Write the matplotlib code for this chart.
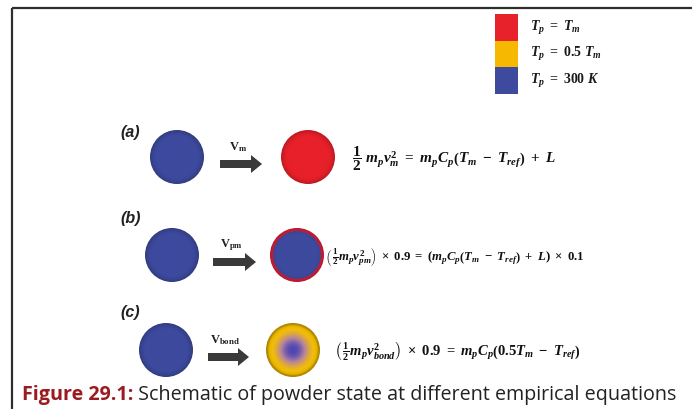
"""
Schematic of powder state at different empirical equations (Figure 29.1).
Drawn in pixel coordinates on one full-figure axes.
"""

import numpy as np
import matplotlib
matplotlib.use("Agg")
import matplotlib.pyplot as plt
from matplotlib.patches import Circle, Rectangle, FancyArrow
from matplotlib.colors import to_rgb

plt.rcParams['mathtext.fontset'] = 'custom'
plt.rcParams['mathtext.rm'] = 'Liberation Serif:bold'
plt.rcParams['mathtext.it'] = 'Liberation Serif:italic:bold'
plt.rcParams['mathtext.bf'] = 'Liberation Serif:bold'

# ---- content ----
legend_colors = ['#e8222b', '#f6b800', '#3d4a9e']
legend_labels = [r'$T_p\ =\ T_m$', r'$T_p\ =\ 0.5\ T_m$', r'$T_p\ =\ 300\ K$']

row_labels = ['(a)', '(b)', '(c)']
speed_labels = [r'$\mathrm{V_{m}}$', r'$\mathrm{V_{pm}}$', r'$\mathrm{V_{bond}}$']
equations = [
    r'$\dfrac{1}{2}\ m_p v_m^2\ =\ m_p C_p \left(T_m\ -\ T_{ref}\right)\ +\ L$',
    r'$\left(\,\frac{1}{2} m_p v_{pm}^2\right)\ \times\ 0.9\ =\ (m_p C_p \left(T_m\ -\ T_{ref}\right)\ +\ L)\ \times\ 0.1$',
    r'$\left(\,\frac{1}{2} m_p v_{bond}^2\right)\ \times\ 0.9\ =\ m_p C_p \left(0.5T_m\ -\ T_{ref}\right)$',
]
final_states = ['melted', 'shell', 'bonded']

caption_bold = 'Figure 29.1:'
caption_text = ' Schematic of powder state at different empirical equations'

BLUE = '#3d4a9e'
RED = '#e8202a'
YELLOW = '#f5c000'

# ---- layout (pixels) ----
W, H = 692, 409
rows_y = [157, 255, 350]
label_xy = [(120, 133), (120, 218), (120, 312)]
start_x = [177, 172, 166]
arrow_x = [(220, 262), (213, 256), (208, 249)]
end_x = [308, 297, 293]
eq_x = [352, 325, 334]
eq_size = [11, 9.2, 10.5]
R = 27


def sphere(ax, cx, cy, r, kind):
    n = 240
    yy, xx = np.mgrid[-1:1:n * 1j, -1:1:n * 1j]
    rr = np.sqrt(xx ** 2 + yy ** 2)
    shade = np.clip(1.05 - 0.25 * rr ** 6, 0, 1)[..., None]
    if kind == 'cold':
        img = np.ones((n, n, 3)) * to_rgb(BLUE)
    elif kind == 'melted':
        img = np.ones((n, n, 3)) * to_rgb(RED)
    elif kind == 'shell':
        img = np.ones((n, n, 3)) * to_rgb(BLUE)
        img[rr > 0.89] = to_rgb('#dc1f38')
    else:
        t = np.clip((rr - 0.05) / 0.8, 0, 1)[..., None]
        t = t * t * (3 - 2 * t)
        core = np.array(to_rgb('#5046b4'))
        mid = np.array(to_rgb('#b8869a'))
        outer = np.array(to_rgb(YELLOW))
        img = np.where(t < 0.5, core + (mid - core) * (t * 2),
                       mid + (outer - mid) * (t * 2 - 1))
        img[rr > 0.92] = to_rgb('#d6a200')
    img = np.clip(img * shade, 0, 1)
    im = ax.imshow(img, extent=(cx - r, cx + r, cy + r, cy - r),
                   origin='upper', interpolation='bilinear', zorder=2)
    im.set_clip_path(Circle((cx, cy), r, transform=ax.transData))


fig = plt.figure(figsize=(W / 100, H / 100), dpi=100)
ax = fig.add_axes([0, 0, 1, 1])
ax.set_xlim(0, W)
ax.set_ylim(H, 0)
ax.axis('off')

# frame lines
ax.plot([11.5, W], [7.5, 7.5], color='#2e2e2e', lw=1.6, solid_capstyle='butt')
ax.plot([11.5, 11.5], [7.5, H], color='#2e2e2e', lw=1.6, solid_capstyle='butt')

# legend
for i, (c, lab) in enumerate(zip(legend_colors, legend_labels)):
    y0 = 14 + i * 26.5
    ax.add_patch(Rectangle((495, y0), 23, 26.5, color=c, lw=0))
    ax.text(530, y0 + 14, lab, fontsize=10, va='center', ha='left', color='#1a1a1a')

# rows
for i in range(3):
    y = rows_y[i]
    ax.text(label_xy[i][0], label_xy[i][1], row_labels[i], fontsize=11.5,
            fontweight='bold', fontstyle='italic', family='Liberation Sans',
            va='center', ha='left', color='#222222')
    sphere(ax, start_x[i], y, R, 'cold')
    x0, x1 = arrow_x[i]
    ax.add_patch(FancyArrow(x0, y + 7, x1 - x0, 0, width=8, head_width=18,
                            head_length=11, length_includes_head=True,
                            color='#3a3a3a', lw=0))
    ax.text((x0 + x1) / 2 - 3, y - 10, speed_labels[i], fontsize=9,
            ha='center', va='center', color='#222222')
    sphere(ax, end_x[i], y, R, final_states[i])
    ax.text(eq_x[i], y + 2, equations[i], fontsize=eq_size[i],
            ha='left', va='center', color='#111111')

# caption
t1 = ax.text(22, 395, caption_bold, fontsize=14.2, fontweight='bold',
             family='Open Sans', color='#9b1b20', va='center', ha='left')
ax.annotate(caption_text, xy=(1, 0.5), xycoords=t1, fontsize=14.2,
            family='Open Sans', color='#222222', va='center', ha='left')

fig.savefig('out.png', dpi=100)
